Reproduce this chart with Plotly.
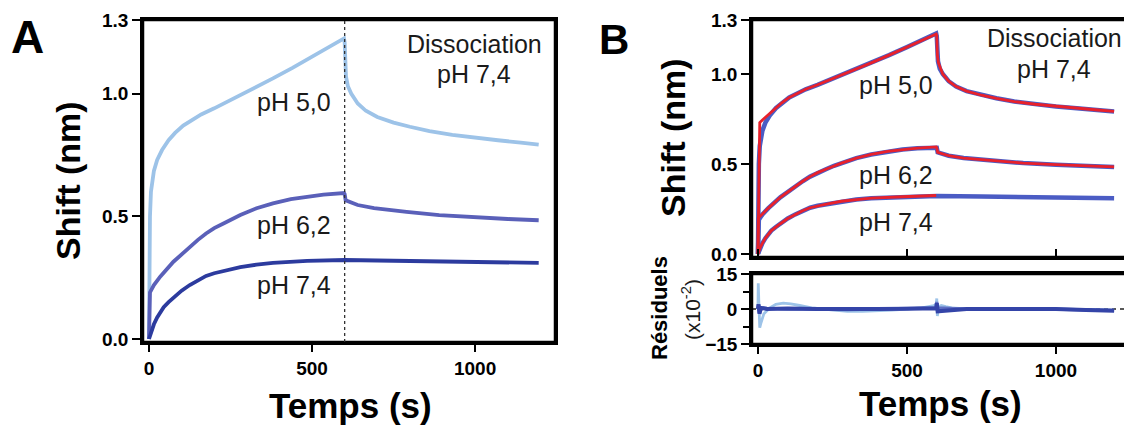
import plotly.graph_objects as go

# temps (s) et shift (nm)
t_assoc_50 = [0, 1, 3, 6, 10, 15, 25, 40, 60, 80, 105, 130, 160, 200, 260, 320, 380, 440, 500, 560, 598]
ph50_assoc = [0.0, 0.30, 0.50, 0.60, 0.65, 0.685, 0.73, 0.77, 0.81, 0.84, 0.87, 0.89, 0.915, 0.94, 0.98, 1.02, 1.062, 1.105, 1.149, 1.194, 1.225]
t_diss_50 = [600, 601, 604, 610, 620, 640, 665, 700, 750, 800, 860, 930, 1000, 1070, 1140, 1195]
ph50_diss = [1.21, 1.12, 1.07, 1.03, 1.0, 0.96, 0.93, 0.905, 0.882, 0.865, 0.847, 0.832, 0.82, 0.81, 0.80, 0.792]

t_assoc_62 = [0, 1, 3, 15, 35, 75, 100, 125, 150, 175, 200, 230, 255, 280, 330, 380, 435, 485, 535, 598]
ph62_assoc = [0.0, 0.17, 0.19, 0.22, 0.255, 0.315, 0.346, 0.375, 0.404, 0.43, 0.452, 0.472, 0.49, 0.505, 0.533, 0.553, 0.57, 0.58, 0.588, 0.595]
t_diss_62 = [600, 603, 620, 640, 690, 740, 790, 890, 1000, 1100, 1195]
ph62_diss = [0.59, 0.565, 0.555, 0.546, 0.533, 0.525, 0.518, 0.505, 0.496, 0.489, 0.484]

t_assoc_74 = [0, 3, 8, 15, 25, 45, 60, 75, 100, 125, 150, 175, 200, 230, 280, 330, 380, 485, 598]
ph74_assoc = [0.0, 0.015, 0.037, 0.06, 0.088, 0.13, 0.15, 0.168, 0.197, 0.22, 0.24, 0.257, 0.268, 0.277, 0.293, 0.303, 0.31, 0.318, 0.325]
t_diss_74 = [600, 750, 900, 1050, 1195]
ph74_diss = [0.322, 0.319, 0.316, 0.313, 0.31]

# ajustements (rouge) panneau B
t_fit_50 = [0, 6, 15, 25, 40, 60, 80, 105, 130, 160, 200, 260, 320, 380, 440, 500, 560, 598,
            600, 602, 606, 612, 620, 640, 665, 700, 750, 800, 860, 930, 1000, 1070, 1140, 1195]
fit_50 = [0.0, 0.73, 0.745, 0.76, 0.785, 0.815, 0.84, 0.87, 0.89, 0.915, 0.94, 0.98, 1.02, 1.062, 1.105, 1.149, 1.194, 1.222,
          1.215, 1.10, 1.06, 1.03, 1.0, 0.96, 0.93, 0.905, 0.882, 0.865, 0.847, 0.832, 0.82, 0.81, 0.80, 0.792]
t_fit_62 = [0, 1, 15, 35, 75, 100, 125, 150, 175, 200, 230, 255, 280, 330, 380, 435, 485, 535, 598,
            600, 603, 620, 640, 690, 740, 790, 890, 1000, 1100, 1195]
fit_62 = [0.0, 0.2, 0.222, 0.255, 0.315, 0.346, 0.375, 0.404, 0.43, 0.452, 0.472, 0.49, 0.505, 0.533, 0.553, 0.57, 0.58, 0.588, 0.595,
          0.59, 0.565, 0.555, 0.546, 0.533, 0.525, 0.518, 0.505, 0.496, 0.489, 0.484]
t_fit_74 = t_assoc_74
fit_74 = ph74_assoc

# residus (x10^-2)
t_res_50 = [0, 1, 3, 6, 10, 20, 40, 60, 85, 110, 140, 180, 220, 260, 300, 350, 400, 450, 500, 550, 590, 598,
            600, 602, 606, 615, 630, 650, 700, 800, 900, 1000, 1100, 1195]
res_50 = [0, 11, 3, -8, -6, -2, 0.5, 2, 2.5, 2.2, 1.5, 0.5, 0, -0.6, -1, -1, -0.8, -0.5, 0, 0.5, 1.5, 2,
          4.5, -3, 1, 1.5, 1, 0.5, 0, 0, 0, 0, -0.3, -0.5]
t_res_62 = [0, 2, 5, 10, 30, 100, 300, 500, 598, 600, 603, 610, 700, 900, 1100, 1195]
res_62 = [0, 2, -2, 0.5, 0.3, 0, -0.3, 0.2, 0.5, 3, -1.5, 0.5, 0, 0.2, -0.2, -0.6]
t_res_74 = [0, 2, 5, 10, 30, 100, 200, 300, 400, 500, 598, 600, 603, 700, 800, 900, 1000, 1100, 1195]
res_74 = [0, 2, -2, 0.5, 0, 0.2, 0, -0.2, 0, 0.1, 0.3, 2.5, -1, 0, 0.1, 0.2, 0, -0.4, -0.7]

C50 = '#9dc3e8'
C62 = '#5a60b9'
C74 = '#2c3b9e'
CDATA = '#4b5cc4'
CFIT = '#e8212b'

# la page ajoute une marge de 8 px autour de la figure
W, H = 1124, 420
OFF = 8
def px(x):
    return (x - OFF) / W
def py(y):
    return 1 - (y - OFF) / H

FONT = 'Liberation Sans, Arial, sans-serif'

fig = go.Figure()

# panneau A
for t1, v1, t2, v2, c in [(t_assoc_50, ph50_assoc, t_diss_50, ph50_diss, C50),
                          (t_assoc_62, ph62_assoc, t_diss_62, ph62_diss, C62),
                          (t_assoc_74, ph74_assoc, t_diss_74, ph74_diss, C74)]:
    fig.add_trace(go.Scatter(x=t1 + t2, y=v1 + v2, mode='lines', line=dict(color=c, width=3.8),
                             xaxis='x', yaxis='y', showlegend=False))

# panneau B : donnees + ajustements
for t1, v1, t2, v2 in [(t_assoc_50, ph50_assoc, t_diss_50, ph50_diss),
                       (t_assoc_62, ph62_assoc, t_diss_62, ph62_diss),
                       (t_assoc_74, ph74_assoc, t_diss_74, ph74_diss)]:
    fig.add_trace(go.Scatter(x=t1 + t2, y=v1 + v2, mode='lines', line=dict(color=CDATA, width=4.5),
                             xaxis='x2', yaxis='y2', showlegend=False))
for t, v in [(t_fit_50, fit_50), (t_fit_62, fit_62), (t_fit_74, fit_74)]:
    fig.add_trace(go.Scatter(x=t, y=v, mode='lines', line=dict(color=CFIT, width=2.8),
                             xaxis='x2', yaxis='y2', showlegend=False))

# residus
fig.add_trace(go.Scatter(x=t_res_50, y=res_50, mode='lines', line=dict(color=C50, width=2.8),
                         xaxis='x3', yaxis='y3', showlegend=False))
fig.add_trace(go.Scatter(x=t_res_62, y=res_62, mode='lines', line=dict(color='#5f6fc4', width=3.2),
                         xaxis='x3', yaxis='y3', showlegend=False))
fig.add_trace(go.Scatter(x=t_res_74, y=res_74, mode='lines', line=dict(color='#3444a8', width=4),
                         xaxis='x3', yaxis='y3', showlegend=False))

tickfont = dict(family=FONT, size=19, color='black', weight='bold')
ax = dict(showline=True, linecolor='black', linewidth=2.5, mirror=True, showgrid=False, zeroline=False,
          ticks='outside', ticklen=8, tickwidth=2, tickcolor='black', tickfont=tickfont, automargin=False)

fig.update_layout(
    width=W, height=H, margin=dict(l=0, r=0, t=0, b=0, autoexpand=False),
    plot_bgcolor='white', paper_bgcolor='white',
    xaxis=dict(ax, domain=[px(143), px(555)], range=[-18.4, 1245], tickvals=[0, 500, 1000],
               ticklen=7, anchor='y'),
    yaxis=dict(ax, domain=[py(342), py(20)], range=[-0.0122, 1.3], tickvals=[0, 0.5, 1.0, 1.3],
               tickformat='.1f', anchor='x'),
    xaxis2=dict(ax, domain=[px(752), px(1129)], range=[-20, 1245], tickvals=[0, 500, 1000],
                ticks='inside', showticklabels=False, anchor='y2'),
    yaxis2=dict(ax, domain=[py(257), py(20)], range=[-0.0167, 1.3], tickvals=[0, 0.5, 1.0, 1.3],
                tickformat='.1f', anchor='x2'),
    xaxis3=dict(ax, domain=[px(752), px(1129)], range=[-20, 1245], tickvals=[0, 500, 1000],
                ticklen=7, anchor='y3'),
    yaxis3=dict(ax, domain=[py(344), py(274)], range=[-15, 15], tickvals=[-15, 0, 15],
                minor=dict(tickvals=[-7.5, 7.5], ticks='outside', ticklen=6, tickwidth=2, tickcolor='black'),
                anchor='x3'),
)

# cadres des trois graphes
for xa, ya in [('x', 'y'), ('x2', 'y2'), ('x3', 'y3')]:
    fig.add_shape(type='rect', xref=xa + ' domain', yref=ya + ' domain', x0=0, x1=1, y0=0, y1=1,
                  line=dict(color='black', width=2.5), layer='above')

fig.add_shape(type='line', xref='x', yref='y domain', x0=600, x1=600, y0=0, y1=1,
              line=dict(color='#333333', width=1.3, dash='3px,3px'))
fig.add_shape(type='line', xref='x3 domain', yref='y3', x0=0, x1=1, y0=0, y1=0, layer='below',
              line=dict(color='#222222', width=1.3, dash='4px,4px'))

def note(text, x, y, size, bold=False, angle=0):
    fig.add_annotation(text=text, x=px(x), y=py(y), xref='paper', yref='paper', showarrow=False,
                       xanchor='center', yanchor='middle', textangle=angle,
                       font=dict(family=FONT, size=size, color='black' if bold else '#1a1a1a',
                                 weight='bold' if bold else 'normal'))

note('A', 27, 37, 46, bold=True)
note('B', 614, 40, 42, bold=True)
note('Shift (nm)', 68, 181, 34, bold=True, angle=-90)
note('Shift (nm)', 673, 138, 34, bold=True, angle=-90)
note('Temps (s)', 350, 405, 35, bold=True)
note('Temps (s)', 940, 403, 35, bold=True)
note('Résiduels', 659, 308, 22, bold=True, angle=-90)
note('(x10<sup>-2</sup>)', 691, 310, 21, angle=-90)

note('pH 5,0', 294, 102, 25)
note('pH 6,2', 294, 225, 25)
note('pH 7,4', 294, 285, 25)
note('Dissociation', 474, 44, 25)
note('pH 7,4', 474, 74, 25)

note('pH 5,0', 896, 85, 25)
note('pH 6,2', 896, 175, 25)
note('pH 7,4', 896, 222, 25)
note('Dissociation', 1054, 38, 25)
note('pH 7,4', 1054, 69, 25)

fig.write_html("out.html")
